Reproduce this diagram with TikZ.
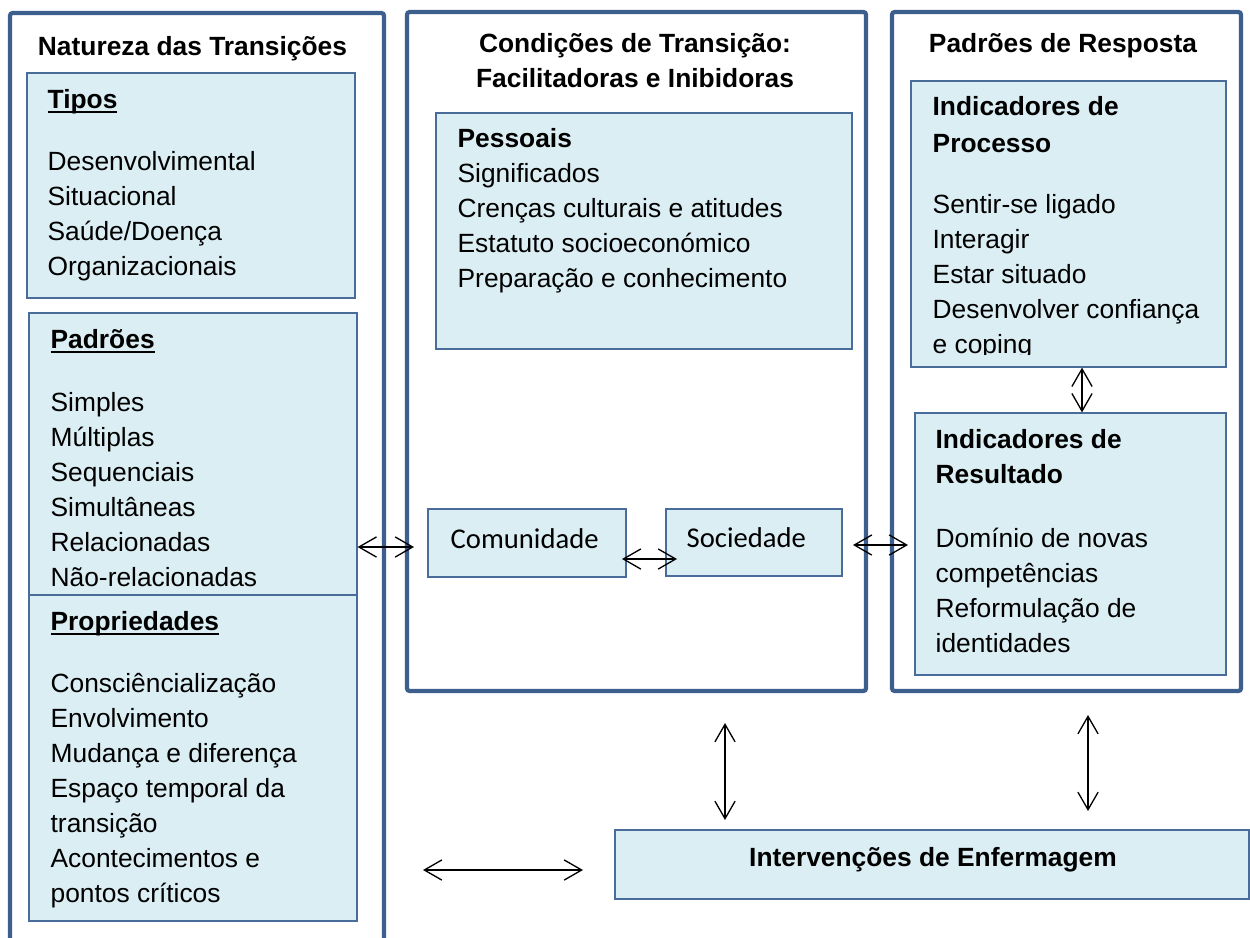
\documentclass[tikz,border=0pt]{standalone}
\usepackage{fontspec}
\setmainfont{Liberation Sans}
\newfontfamily\calfont{Carlito}
\usetikzlibrary{arrows.meta,fit}

\definecolor{framec}{HTML}{3D5F8E}
\definecolor{boxfill}{HTML}{DBEEF4}
\definecolor{boxline}{HTML}{4A6C9B}

% sublinhado grosso dos cabecalhos
\newcommand\ulhead[1]{\setbox0\hbox{#1}\rlap{\rule[-2.6pt]{\wd0}{1.1pt}}\box0}

\begin{document}
\begin{tikzpicture}[x=0.02cm, y=-0.02cm, line width=0.75pt,
	>={Straight Barb[length=10pt,width=11.5pt]},
	frame/.style={draw=framec, line width=2.4pt, rounded corners=1.5pt, inner sep=0pt},
	lbox/.style={draw=boxline, fill=boxfill, line width=0.7pt, inner sep=0pt},
	txt/.style={anchor=base west, inner sep=0pt, font=\fontsize{15pt}{18pt}\selectfont},
	head/.style={txt, font=\fontsize{15pt}{18pt}\selectfont\bfseries},
	ttl/.style={anchor=base, inner sep=0pt, font=\fontsize{15pt}{18pt}\selectfont\bfseries},
	cal/.style={anchor=base west, inner sep=0pt, font=\calfont\fontsize{16.3pt}{19pt}\selectfont}]
	\useasboundingbox (0,0) rectangle (1250,937);
	
	% Molduras das tres colunas
	\node[frame, fit={(10,13) (384,990)}] (natur) {};
	\node[frame, fit={(407,12) (866,691)}] (cond) {};
	\node[frame, fit={(892,12) (1241,691)}] (resp) {};
	
	% Caixas
	\node[lbox, fit={(27,73) (355,298)}] (tipos) {};
	\node[lbox, fit={(29,313) (357,595)}] (padroes) {};
	\node[lbox, fit={(29,595) (357,921)}] (propr) {};
	\node[lbox, fit={(436,113) (852,349)}] (pessoais) {};
	\node[lbox, fit={(428,509) (626,577)}] (comun) {};
	\node[lbox, fit={(666,509) (842,576)}] (socied) {};
	\node[lbox, fit={(911,81) (1226,367)}] (procind) {};
	\node[lbox, fit={(915,413) (1226,675)}] (resind) {};
	\node[lbox, fit={(615,830) (1249,899)}] (interv) {};
	
	% Titulos
	\node[ttl] (naturt) at (192.5,55) {Natureza das Transições};
	\node[ttl] (condt1) at (635,52) {Condições de Transição:};
	\node[ttl] (condt2) at (635,87) {Facilitadoras e Inibidoras};
	\node[ttl] (respt) at (1063,52) {Padrões de Resposta};
	\node[ttl] (intervt) at (933,866) {Intervenções de Enfermagem};
	
	% Natureza das transicoes
	\node[head] (tiposh) at (47,108) {\ulhead{Tipos}};
	\foreach \t [count=\i from 0] in {Desenvolvimental, Situacional, Saúde/Doença, Organizacionais}
		\node[txt] (tipo\i) at (47,170+35*\i) {\t};
	
	\node[head] (padroesh) at (50,348) {\ulhead{Padrões}};
	\begin{scope}
		\clip (29,313) rectangle (357,586);
		\foreach \t [count=\i from 0] in {Simples, Múltiplas, Sequenciais, Simultâneas, Relacionadas, Não-relacionadas}
			\node[txt] (padrao\i) at (50,411+35*\i) {\t};
	\end{scope}
	
	\node[head] (proprh) at (50,630) {\ulhead{Propriedades}};
	\foreach \t [count=\i from 0] in {Consciêncialização, Envolvimento, Mudança e diferença, Espaço temporal da, transição, Acontecimentos e, pontos críticos}
		\node[txt] (prop\i) at (50,692+35*\i) {\t};
	
	% Condicoes
	\node[head] (pessoaish) at (457,147) {Pessoais};
	\foreach \t [count=\i from 0] in {Significados, Crenças culturais e atitudes, Estatuto socioeconómico, Preparação e conhecimento}
		\node[txt] (pess\i) at (457,182+35*\i) {\t};
	\node[cal] (comunt) at (450,548) {Comunidade};
	\node[cal] (sociedt) at (686,547) {Sociedade};
	
	% Padroes de resposta
	\node[head] (proch1) at (932,115) {Indicadores de};
	\node[head] (proch2) at (932,152) {Processo};
	\begin{scope}
		\clip (911,81) rectangle (1226,354);
		\foreach \t [count=\i from 0] in {Sentir-se ligado, Interagir, Estar situado, Desenvolver confiança, e coping}
			\node[txt] (proc\i) at (932,213+35*\i) {\t};
	\end{scope}
	\node[head] (resh1) at (935,448) {Indicadores de};
	\node[head] (resh2) at (935,483) {Resultado};
	\foreach \t [count=\i from 0] in {Domínio de novas, competências, Reformulação de, identidades}
		\node[txt] (res\i) at (935,547+35*\i) {\t};
	
	% Setas
	\coordinate (a1) at (414,547);
	\coordinate (a2s) at (622,559);
	\coordinate (a2e) at (677,559);
	\coordinate (a3s) at (853,545);
	\coordinate (a3e) at (908,545);
	\coordinate (a4) at (1082,0);
	\coordinate (a5s) at (725,723);
	\coordinate (a5e) at (725,820);
	\coordinate (a6s) at (1088,715);
	\coordinate (a6e) at (1088,811);
	\coordinate (a7s) at (423,870);
	\coordinate (a7e) at (583,870);
	\draw[<->] (padroes.east |- a1) -- (a1);
	\draw[<->] (a2s) -- (a2e);
	\draw[<->] (a3s) -- (a3e);
	\draw[<->] (procind.south -| a4) -- (resind.north -| a4);
	\draw[<->] (a5s) -- (a5e);
	\draw[<->] (a6s) -- (a6e);
	\draw[<->] (a7s) -- (a7e);
\end{tikzpicture}
\end{document}
